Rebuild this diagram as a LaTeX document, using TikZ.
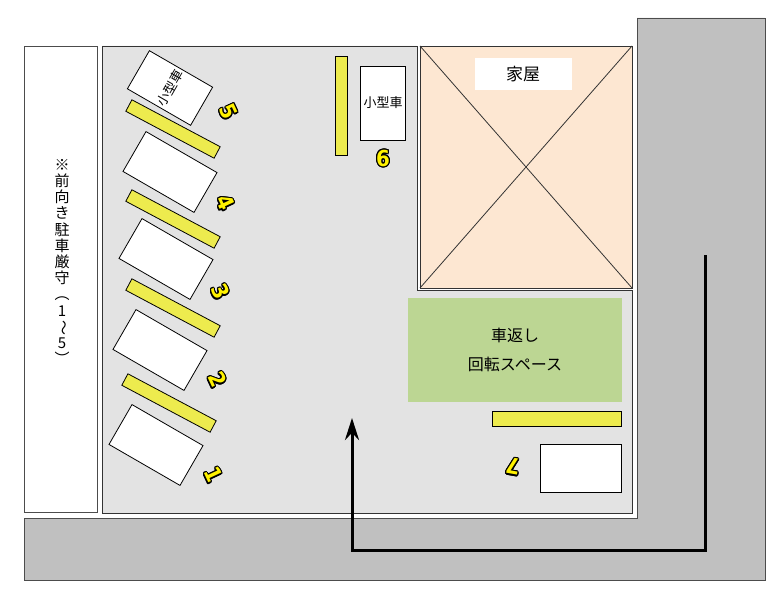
\documentclass[tikz,border=0pt]{standalone}
\usepackage{fontspec}
\setmainfont{Noto Sans CJK JP}
\newfontfamily\numfont{DejaVu Sans Condensed}
\usepackage{contour}
\usetikzlibrary{arrows.meta}
\contourlength{1.2pt}
\definecolor{road}{HTML}{C0C0C0}
\definecolor{lot}{HTML}{E3E3E3}
\definecolor{house}{HTML}{FDE7D2}
\definecolor{turn}{HTML}{BCD693}
\definecolor{stop}{HTML}{EDEB4E}
\tikzset{
  car/.style={draw, fill=white, minimum width=82pt, minimum height=46pt, inner sep=0pt},
  bar/.style={draw, fill=stop, minimum width=100pt, minimum height=13pt, inner sep=0pt},
  num/.style={font=\numfont\bfseries\fontsize{22}{22}\selectfont, inner sep=0pt},
}
\newcommand{\slotnum}[1]{\contour{black}{\textcolor{yellow}{#1}}}
\newcommand{\vchar}[1]{\makebox[15pt]{\rotatebox[origin=c]{-90}{#1}}}
\begin{document}
\begin{tikzpicture}[x=1pt,y=-1pt, line width=0.8pt]
	\useasboundingbox (0,0) rectangle (775,591);
	% road
	\draw[fill=road,draw=black!70] (637,18) -- (765,18) -- (765,580) -- (24,580) -- (24,518) -- (637,518) -- cycle;
	\draw[fill=white,draw=black!70] (24,46) rectangle (97,512);
	\node[font=\fontsize{15}{16.2}\selectfont, align=center] (rule) at (62,262)
		{※\\前\\向\\き\\駐\\車\\厳\\守\\︵\\1\\\vchar{～}\\5\\︶};
	% lot
	\draw[fill=lot,draw=black!80] (102,46) -- (417,46) -- (417,290) -- (632,290) -- (632,513) -- (102,513) -- cycle;
	\draw[fill=house,draw=black!80] (420,46) rectangle (632,288);
	\draw[black!80] (420,46) -- (632,288) (632,46) -- (420,288);
	\node[fill=white, minimum width=97pt, minimum height=32pt, font=\fontsize{17}{17}\selectfont] (home) at (523,74) {家屋};
	\node[fill=turn, minimum width=214pt, minimum height=104pt, align=center, font=\fontsize{16}{29}\selectfont] (space) at (515,350) {車返し\\回転スペース};

	% slots 1-5
	\foreach \x/\y [count=\i] in {156/445,160/350,166/259,170/172} {
		\node[car, rotate=-30] (car\i) at (\x,\y) {};
	}
	\node[car, rotate=-30, minimum width=73pt, minimum height=44pt] (car5) at (170,88)
		{\rotatebox{90}{\fontsize{13}{13}\selectfont 小型車}};
	\foreach \x/\y [count=\i] in {169/403,173/308,173/219,173/129} {
		\node[bar, rotate=-28] (bar\i) at (\x,\y) {};
	}
	\foreach \x/\y [count=\i] in {213/475,217/380,220/292,225/203,228/112} {
		\node[num, rotate=-65] (n\i) at (\x,\y) {\slotnum{\i}};
	}
	% slot 6
	\node[bar, minimum width=12pt, minimum height=99pt] (bar6) at (341,106) {};
	\node[draw, fill=white, minimum width=44pt, minimum height=74pt, font=\fontsize{13}{13}\selectfont] (car6) at (383,103) {小型車};
	\node[num] (n6) at (383,159) {\slotnum{6}};
	% slot 7
	\node[bar, minimum width=129pt, minimum height=15pt] (bar7) at (557,419) {};
	\node[draw, fill=white, minimum width=81pt, minimum height=48pt] (car7) at (581,468) {};
	\node[num, rotate=170] (n7) at (513,466) {\slotnum{7}};

	% route
	\coordinate (start) at (705,255);
	\coordinate (turn1) at (705,550);
	\coordinate (turn2) at (352,550);
	\coordinate (goal) at (352,418);
	\draw[line width=3pt, -{Stealth[length=22pt,width=14pt]}] (start) -- (turn1) -- (turn2) -- (goal);
\end{tikzpicture}
\end{document}
